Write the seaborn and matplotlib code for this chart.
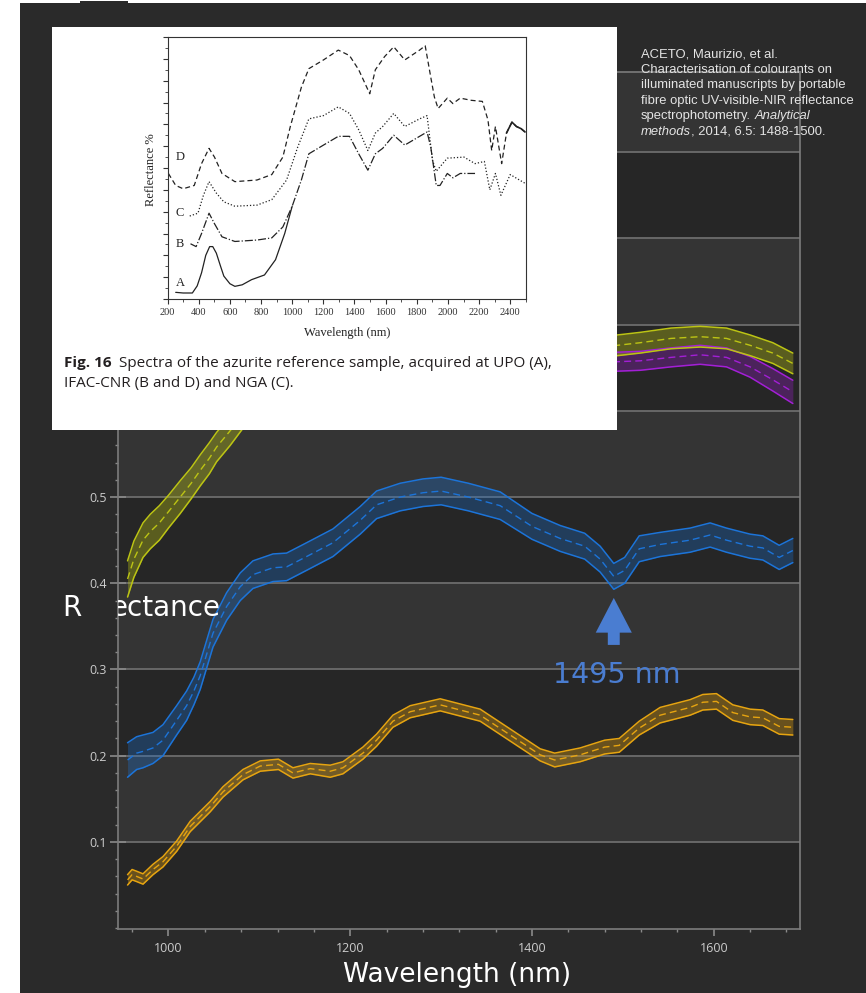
import numpy as np
import pandas as pd
import matplotlib
matplotlib.use("Agg")
import matplotlib.pyplot as plt
import seaborn as sns
from matplotlib.patches import Rectangle
from matplotlib.ticker import MultipleLocator

# ---------------- main chart data (wavelength nm, reflectance) ----------------
OLIVE_WL = [955, 962, 972, 980, 990, 1000, 1013, 1025, 1035, 1045, 1053, 1068, 1085, 1100, 1130,
            1170, 1220, 1270, 1320, 1370, 1420, 1460, 1494, 1519, 1553, 1585, 1614, 1640, 1665, 1687]
OLIVE_MEAN = [0.405, 0.428, 0.450, 0.460, 0.470, 0.483, 0.500, 0.516, 0.531, 0.545, 0.558, 0.577, 0.600,
              0.620, 0.650, 0.670, 0.685, 0.690, 0.690, 0.685, 0.680, 0.675, 0.676, 0.679, 0.684, 0.686,
              0.684, 0.676, 0.667, 0.655]
OLIVE_SD = [0.021, 0.021, 0.020, 0.020, 0.020, 0.019, 0.019, 0.018, 0.018, 0.018, 0.017, 0.017, 0.016,
            0.016, 0.015, 0.014, 0.013, 0.013, 0.013, 0.012, 0.012, 0.012, 0.012, 0.012, 0.012, 0.012,
            0.012, 0.012, 0.012, 0.012]

PURPLE_WL = [955, 1000, 1050, 1100, 1200, 1300, 1400, 1460, 1494, 1519, 1553, 1585, 1614, 1640, 1665, 1687]
PURPLE_MEAN = [0.625, 0.640, 0.650, 0.655, 0.660, 0.665, 0.662, 0.658, 0.657, 0.658, 0.662, 0.665,
               0.662, 0.651, 0.636, 0.622]
PURPLE_SD = [0.011, 0.011, 0.011, 0.011, 0.011, 0.011, 0.011, 0.011, 0.011, 0.011, 0.011, 0.011,
             0.011, 0.012, 0.013, 0.0135]

BLUE_WL = [955, 965, 972, 983, 994, 1009, 1020, 1028, 1035, 1049, 1064, 1079, 1093, 1115, 1130, 1152,
           1181, 1211, 1229, 1255, 1280, 1300, 1330, 1365, 1400, 1431, 1458, 1475, 1490, 1502, 1518,
           1541, 1574, 1596, 1614, 1640, 1654, 1672, 1687]
BLUE_MEAN = [0.195, 0.203, 0.205, 0.209, 0.218, 0.241, 0.258, 0.275, 0.293, 0.342, 0.373, 0.396, 0.410,
             0.418, 0.419, 0.431, 0.447, 0.473, 0.491, 0.500, 0.505, 0.507, 0.500, 0.490, 0.466, 0.452,
             0.443, 0.428, 0.408, 0.415, 0.440, 0.445, 0.450, 0.456, 0.450, 0.443, 0.441, 0.430, 0.438]
BLUE_SD = [0.020, 0.019, 0.019, 0.018, 0.018, 0.017, 0.017, 0.016, 0.016, 0.016,
           0.016, 0.016, 0.016, 0.016, 0.016, 0.016, 0.016, 0.016, 0.016, 0.016,
           0.016, 0.016, 0.016, 0.016, 0.015, 0.015, 0.015, 0.015, 0.015, 0.015,
           0.015, 0.014, 0.014, 0.014, 0.014, 0.014, 0.014, 0.014, 0.014]

ORANGE_WL = [955, 960, 965, 972, 983, 994, 1009, 1024, 1046, 1060, 1082, 1101, 1121, 1137, 1156, 1178,
             1192, 1214, 1229, 1247, 1266, 1299, 1343, 1376, 1409, 1425, 1453, 1480, 1496, 1518, 1541,
             1574, 1588, 1603, 1621, 1640, 1654, 1672, 1687]
ORANGE_MEAN = [0.056, 0.062, 0.060, 0.057, 0.068, 0.077, 0.095, 0.118, 0.141, 0.158, 0.178, 0.188,
               0.190, 0.180, 0.185, 0.182, 0.186, 0.203, 0.218, 0.240, 0.251, 0.259, 0.247, 0.224,
               0.201, 0.195, 0.201, 0.210, 0.212, 0.232, 0.247, 0.256, 0.262, 0.263, 0.250, 0.245,
               0.244, 0.234, 0.233]
ORANGE_SD = [0.006] * 15 + [0.007] * 10 + [0.008] * 5 + [0.009] * 9

X_TICKS = [1000, 1200, 1400, 1600]
Y_TICKS = [0.1, 0.2, 0.3, 0.4, 0.5, 0.6, 0.7, 0.8, 0.9]
BAND_STARTS = [0.1, 0.3, 0.5, 0.7, 0.9]
PEAK_LABEL = "1495 nm"
PEAK_WL = 1490

# ---------------- inset (journal figure) data ----------------
A_WL = [252, 300, 359, 390, 418, 445, 470, 490, 513, 540, 561, 600, 632, 679, 739, 822, 893, 952, 1000]
A_VAL = [0.61, 0.55, 0.55, 1.2, 2.4, 4.0, 4.8, 4.8, 4.2, 3.0, 2.1, 1.4, 1.16, 1.3, 1.77, 2.2, 3.6, 6.0, 8.5]
B_WL = [347, 383, 418, 466, 501, 549, 632, 774, 869, 940, 1000, 1059, 1107, 1201, 1296, 1368, 1427,
        1486, 1534, 1581, 1652, 1723, 1818, 1866, 1890, 1925, 1949, 1996, 2032, 2079, 2174]
B_VAL = [5.06, 4.8, 6.0, 7.86, 6.9, 5.7, 5.27, 5.4, 5.6, 6.6, 8.5, 10.9, 13.3, 14.1, 14.9, 14.9, 13.3,
         11.8, 13.3, 13.8, 15.0, 14.1, 14.9, 15.3, 13.9, 10.4, 10.4, 11.5, 11.1, 11.5, 11.5]
C_WL = [342, 395, 430, 466, 513, 561, 632, 774, 869, 964, 1035, 1107, 1201, 1296, 1368, 1427, 1486,
        1534, 1581, 1652, 1723, 1818, 1866, 1901, 1925, 1996, 2103, 2174, 2234, 2269, 2305, 2340, 2400, 2495]
C_VAL = [7.6, 7.86, 9.5, 10.75, 9.7, 8.9, 8.5, 8.6, 9.1, 10.9, 13.9, 16.5, 16.8, 17.6, 17.0, 15.5, 13.6,
         15.2, 15.8, 17.0, 15.8, 16.5, 16.8, 12.7, 11.7, 12.9, 13.0, 12.4, 12.6, 10.0, 11.5, 9.5, 11.4, 10.6]
D_WL = [205, 252, 300, 371, 418, 466, 501, 549, 632, 774, 869, 940, 988, 1059, 1107, 1201, 1296, 1368,
        1427, 1498, 1534, 1593, 1652, 1723, 1818, 1854, 1890, 1913, 1937, 1996, 2032, 2079, 2150, 2221,
        2257, 2281, 2305, 2345, 2376, 2411, 2440, 2470, 2495]
D_VAL = [11.5, 10.4, 10.1, 10.4, 12.4, 13.8, 13.0, 11.5, 10.75, 10.9, 11.4, 13.0, 15.8, 19.4, 21.1, 21.9,
         22.8, 22.3, 21.0, 18.8, 21.0, 22.2, 23.1, 21.9, 22.8, 23.2, 20.3, 18.5, 17.45, 18.4, 17.9, 18.4,
         18.2, 18.1, 16.4, 13.6, 15.8, 12.4, 15.2, 16.2, 15.8, 15.6, 15.3]
INSET_LABELS = ["A", "B", "C", "D"]
INSET_LABEL_Y = [1.46, 5.06, 7.86, 13.0]
INSET_X_TICKS = [200, 400, 600, 800, 1000, 1200, 1400, 1600, 1800, 2000, 2200, 2400]

CITATION = ["ACETO, Maurizio, et al.",
            "Characterisation of colourants on",
            "illuminated manuscripts by portable",
            "fibre optic UV-visible-NIR reflectance"]

# ---------------- styling ----------------
BG = "#2a2a2a"
AX_DARK = "#262626"
AX_LIGHT = "#343434"
GRID = "#6c6c6c"
SPINE = "#7c7c7c"
OLIVE = "#bcc414"
PURPLE = "#a31fd6"
BLUE = "#1c74d9"
ORANGE = "#e6a410"
ANN = "#4a7dd1"

sns.set_theme(style="dark")
plt.rcParams["font.family"] = ["Open Sans", "DejaVu Sans"]

W, H = 866, 993
fig = plt.figure(figsize=(W / 100, H / 100), dpi=100, facecolor="white")


def fx(x):
    return x / W


def fy(y):
    return 1 - y / H


fig.add_artist(Rectangle((fx(20), 0), 1 - fx(20), fy(3), transform=fig.transFigure,
                         facecolor=BG, edgecolor="none", zorder=-5))
fig.add_artist(Rectangle((fx(80), fy(3)), fx(48), 2 / H, transform=fig.transFigure,
                         facecolor=BG, edgecolor="none", zorder=-5))

# ---------------- main axes ----------------
ax = fig.add_axes([fx(118), fy(929), (800 - 118) / W, (929 - 72) / H])
ax.set_facecolor(AX_DARK)
for lo in BAND_STARTS:
    ax.axhspan(lo, lo + 0.1, color=AX_LIGHT, lw=0, zorder=0)
ax.set_xlim(944.5, 1694.9)
ax.set_ylim(-0.001, 0.993)
ax.set_xticks(X_TICKS)
ax.xaxis.set_minor_locator(MultipleLocator(40))
ax.set_yticks(Y_TICKS)
ax.set_yticklabels([f"{v:.1f}" for v in Y_TICKS])
ax.yaxis.set_minor_locator(MultipleLocator(0.02))
ax.set_axisbelow(True)
ax.grid(axis="y", which="major", color=GRID, lw=1.3)
ax.grid(axis="x", visible=False)
for s in ax.spines.values():
    s.set_visible(True)
    s.set_color(SPINE)
    s.set_linewidth(1.2)
ax.tick_params(axis="both", which="both", bottom=True, left=True, colors="#8a8a8a",
               labelcolor="#cccccc", labelsize=9)
ax.tick_params(axis="y", which="major", direction="inout", length=12, width=1.2, pad=2)
ax.tick_params(axis="y", which="minor", direction="out", length=2.5, width=1)
ax.tick_params(axis="x", which="major", direction="out", length=5, width=1.2, pad=4)
ax.tick_params(axis="x", which="minor", direction="out", length=2.5, width=1)


def band(wl, mean, sd, color, alpha):
    df = pd.DataFrame({"wl": wl, "mean": mean, "sd": sd})
    df["lo"] = df["mean"] - df["sd"]
    df["hi"] = df["mean"] + df["sd"]
    ax.fill_between(df["wl"], df["lo"], df["hi"], color=color, alpha=alpha, lw=0, zorder=2)
    sns.lineplot(data=df, x="wl", y="hi", ax=ax, color=color, lw=1.1, zorder=3)
    sns.lineplot(data=df, x="wl", y="lo", ax=ax, color=color, lw=1.1, zorder=3)
    sns.lineplot(data=df, x="wl", y="mean", ax=ax, color=color, lw=1.0,
                 linestyle=(0, (5, 3)), zorder=3)


band(PURPLE_WL, PURPLE_MEAN, PURPLE_SD, PURPLE, 0.3)
band(OLIVE_WL, OLIVE_MEAN, OLIVE_SD, OLIVE, 0.35)
band(BLUE_WL, BLUE_MEAN, BLUE_SD, BLUE, 0.3)
band(ORANGE_WL, ORANGE_MEAN, ORANGE_SD, ORANGE, 0.35)
ax.set_xlabel("")
ax.set_ylabel("")

ax.annotate("", xy=(PEAK_WL, 0.383), xytext=(PEAK_WL, 0.3285),
            arrowprops=dict(arrowstyle="simple,head_length=2.5,head_width=2.6,tail_width=0.86",
                            mutation_scale=10, color=ANN, shrinkA=0, shrinkB=0, lw=0), zorder=4)
fig.text(fx(616.7), fy(683), PEAK_LABEL, ha="center", va="baseline", fontsize=20.5,
         color=ANN, family="DejaVu Sans", zorder=4)

# axis labels (the y label is partly hidden in the reference: "R" outside, "ectance" inside)
fig.text(fx(457.5), fy(982), "Wavelength (nm)", ha="center", va="baseline", fontsize=19,
         color="white", family="DejaVu Sans")
fig.text(fx(62), fy(616), "R", ha="left", va="baseline", fontsize=20, color="white",
         family="DejaVu Sans")
ax.text(fx(111), fy(616), "ectance", transform=fig.transFigure, ha="left", va="baseline",
        fontsize=20, color="white", family="DejaVu Sans", clip_on=True, zorder=5)

# ---------------- inset: white card with the journal figure ----------------
fig.add_artist(Rectangle((fx(52), fy(430)), 565 / W, 403 / H, transform=fig.transFigure,
                         facecolor="white", edgecolor="none", zorder=5))
axi = fig.add_axes([fx(167.6), fy(299), (525.8 - 167.6) / W, (299 - 37) / H], zorder=6)
axi.set_facecolor("white")
for s in axi.spines.values():
    s.set_visible(True)
    s.set_color("#333333")
    s.set_linewidth(0.8)
SERIF = "Liberation Serif"
styles = [(A_WL, A_VAL, "-"), (B_WL, B_VAL, "-."), (C_WL, C_VAL, (0, (1, 1.6))),
          (D_WL, D_VAL, (0, (4, 2.5)))]
for wl, val, ls in styles:
    sns.lineplot(x=wl, y=val, ax=axi, color="#222222", lw=0.9, linestyle=ls)
d_tail = [i for i, w in enumerate(D_WL) if w >= 2376]
sns.lineplot(x=[D_WL[i] for i in d_tail], y=[D_VAL[i] for i in d_tail], ax=axi,
             color="#222222", lw=1.2)
for lab, yv in zip(INSET_LABELS, INSET_LABEL_Y):
    axi.text(252, yv, lab, ha="left", va="center", fontsize=9, family=SERIF, color="#222222")
axi.set_xlim(200, 2500)
axi.set_ylim(0, 24)
axi.set_xticks(INSET_X_TICKS)
axi.xaxis.set_minor_locator(MultipleLocator(100))
axi.yaxis.set_major_locator(MultipleLocator(2))
axi.yaxis.set_minor_locator(MultipleLocator(1))
axi.set_yticklabels([])
axi.tick_params(axis="both", which="both", bottom=True, left=True, direction="out",
                colors="#333333", labelsize=7.5, labelcolor="#333333")
axi.tick_params(which="major", length=3.5, width=0.8, pad=3)
axi.tick_params(which="minor", length=2, width=0.6)
for lbl in axi.get_xticklabels():
    lbl.set_fontfamily(SERIF)
axi.set_xlabel("")
axi.set_ylabel("")
fig.text(fx(347), fy(333), "Wavelength (nm)", ha="center", va="center", fontsize=9,
         family=SERIF, color="#222222", zorder=7)
fig.text(fx(150.6), fy(170), "Reflectance %", ha="center", va="center", rotation=90,
         fontsize=9, family=SERIF, color="#222222", zorder=7)

fig.text(fx(64), fy(367), "Fig. 16", ha="left", va="baseline", fontsize=11, weight="bold",
         color="#231f20", family="Open Sans", zorder=7)
fig.text(fx(118.5), fy(367), "Spectra of the azurite reference sample, acquired at UPO (A),",
         ha="left", va="baseline", fontsize=11, color="#231f20", family="Open Sans", zorder=7)
fig.text(fx(64), fy(387), "IFAC-CNR (B and D) and NGA (C).", ha="left", va="baseline",
         fontsize=11, color="#231f20", family="Open Sans", zorder=7)

# ---------------- citation ----------------
CIT_KW = dict(ha="left", va="baseline", fontsize=9.4, color="#e4e4e4", family="Liberation Sans",
              zorder=7)
baselines = [57.3, 72.8, 88.3, 103.6, 119.2, 134.8]
for line, yb in zip(CITATION, baselines):
    fig.text(fx(640.7), fy(yb), line, **CIT_KW)
fig.canvas.draw()
rend = fig.canvas.get_renderer()
t5 = fig.text(fx(640.7), fy(baselines[4]), "spectrophotometry.", **CIT_KW)
w5 = t5.get_window_extent(renderer=rend).width
fig.text(fx(640.7 + w5 + 3.7), fy(baselines[4]), "Analytical", style="italic", **CIT_KW)
t6 = fig.text(fx(640.7), fy(baselines[5]), "methods", style="italic", **CIT_KW)
w6 = t6.get_window_extent(renderer=rend).width
fig.text(fx(640.7 + w6), fy(baselines[5]), ", 2014, 6.5: 1488-1500.", **CIT_KW)

fig.savefig("out.png", dpi=100, facecolor=fig.get_facecolor())
